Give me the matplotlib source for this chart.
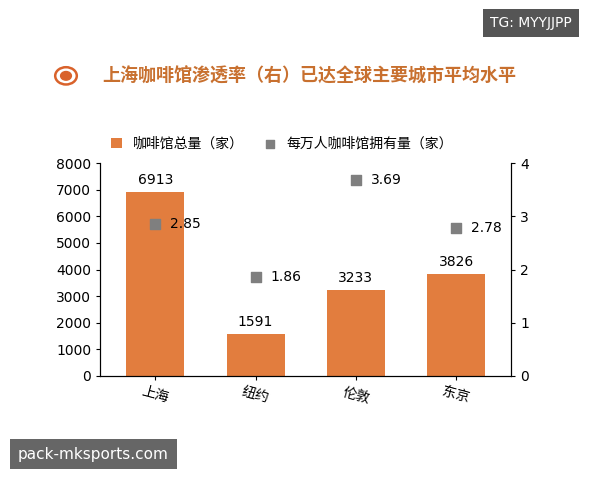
import matplotlib.pyplot as plt
from matplotlib.patches import Circle

plt.rcParams['font.family'] = ['Noto Sans CJK SC', 'DejaVu Sans']

cities = ['上海', '纽约', '伦敦', '东京']
shops = [6913, 1591, 3233, 3826]
per10k = [2.85, 1.86, 3.69, 2.78]

fig = plt.figure(figsize=(6, 4.8), dpi=100)
fig.patch.set_facecolor('white')
ax = fig.add_axes([0.167, 0.217, 0.685, 0.443])
bar_c = '#E27D3E'
x = range(len(cities))
ax.bar(x, shops, width=0.58, color=bar_c, label='咖啡馆总量（家）')
for i, v in enumerate(shops):
    ax.text(i, v + 180, str(v), ha='center', va='bottom', fontsize=10, family=['DejaVu Sans'])
ax.set_ylim(0, 8000)
ax.set_yticks(range(0, 8001, 1000))
ax.set_xlim(-0.55, 3.55)
ax.set_xticks(list(x))
ax.set_xticklabels(cities, rotation=-15, fontsize=11)
ax2 = ax.twinx()
ax2.scatter(list(x), per10k, marker='s', s=60, color='#7F7F7F', label='每万人咖啡馆拥有量（家）', zorder=3)
for i, v in enumerate(per10k):
    ax2.text(i + 0.15, v, f'{v:.2f}', va='center', ha='left', fontsize=10, family=['DejaVu Sans'])
ax2.set_ylim(0, 4)
ax2.set_yticks(range(0, 5))
for a in (ax, ax2):
    a.tick_params(labelsize=10, length=3)
    a.spines['top'].set_visible(False)
for lab in ax.get_yticklabels() + ax2.get_yticklabels():
    lab.set_family('DejaVu Sans')

h1, l1 = ax.get_legend_handles_labels()
h2, l2 = ax2.get_legend_handles_labels()
fig.legend(h1 + h2, l1 + l2, loc='center', bbox_to_anchor=(0.47, 0.70), ncol=2, frameon=False,
           fontsize=10, handlelength=0.8, handleheight=0.8, columnspacing=1.5, markerscale=0.7)

fig.add_artist(Circle((0.11, 0.842), 0.018, transform=fig.transFigure, facecolor='white', edgecolor='#D9622B', lw=1.8))
fig.add_artist(Circle((0.11, 0.842), 0.009, transform=fig.transFigure, color='#D9622B'))
fig.text(0.17, 0.842, '上海咖啡馆渗透率（右）已达全球主要城市平均水平', fontsize=13, color='#C8702F',
         va='center', weight='bold', family=['Noto Sans CJK SC'])

fig.text(0.953, 0.952, 'TG: MYYJJPP', ha='right', va='center', fontsize=10, color='white',
         family=['DejaVu Sans'], bbox=dict(boxstyle='square,pad=0.5', fc='#555555', ec='none'))
fig.text(0.03, 0.054, 'pack-mksports.com', ha='left', va='center', fontsize=11, color='white',
         family=['DejaVu Sans'], bbox=dict(boxstyle='square,pad=0.5', fc='#666666', ec='none'))
fig.savefig('out.png', dpi=100)
